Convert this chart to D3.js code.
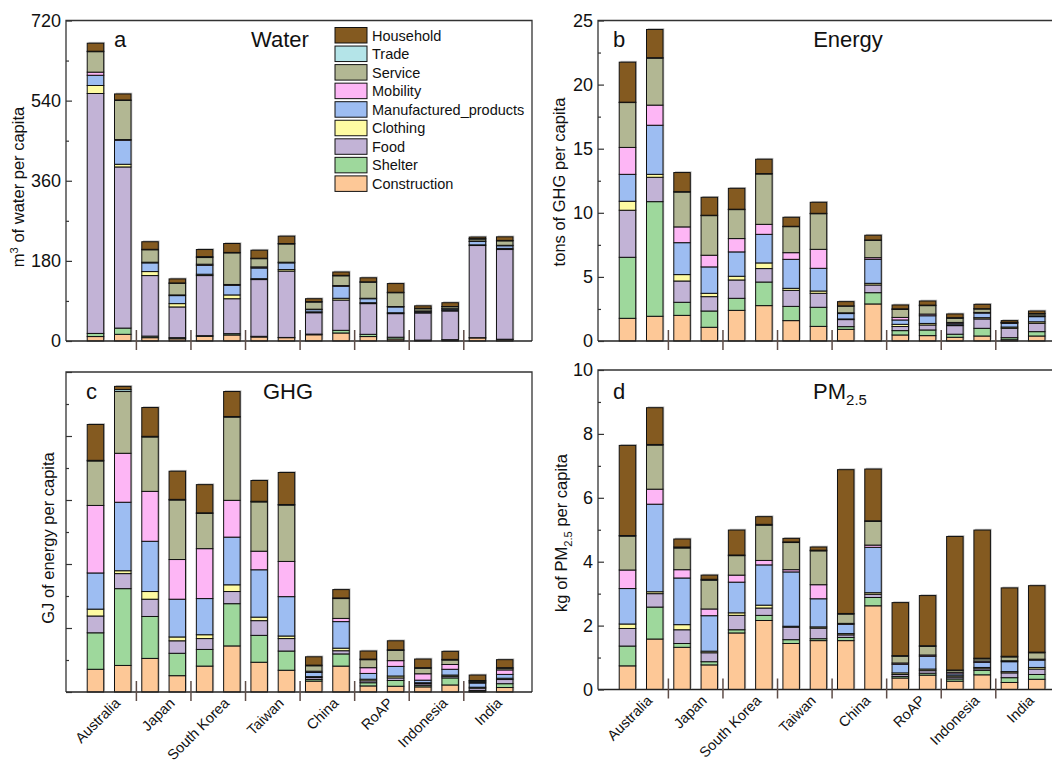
<!DOCTYPE html>
<html><head><meta charset="utf-8">
<script src="https://cdn.jsdelivr.net/npm/d3@7"></script>
<style>body{margin:0;background:#fff}svg{display:block}</style>
</head><body>
<svg id="chart" width="1052" height="764"></svg>
<script>
// ---------------- DATA ----------------
const categories = ["Australia","Japan","South Korea","Taiwan","China","RoAP","Indonesia","India"];
// stack order bottom -> top
const sectors = ["Construction","Shelter","Food","Clothing","Manufactured_products","Mobility","Service","Trade","Household"];
const sectorColors = ["#fdc897","#9ed89c","#c2b3d6","#fefba2","#9dbdf2","#fdb6f5","#b2b793","#b4e4e8","#845a20"];

// each row = one bar (two bars per category), columns follow `sectors`
const waterBars = [
  [10,7,539,18,23,7,46,1,18],
  [15,14,362,6,54,1.5,88,1,13.5],
  [7.5,3.5,136,9,19.5,1.5,28,1,17],
  [5,2.5,69,7.5,18,1.5,26,1,9],
  [10.5,1.5,135,3,20,2.5,15,2,16],
  [13.5,3,78.5,8.5,21.5,2,71,1,20],
  [9,1.5,127.5,2,24,2.5,18.5,1,18],
  [7.5,0.5,149,3.5,15,1.5,41,1,16.5],
  [14,1.5,48,2,5,1,16,1,6.5],
  [18,6,68,4,27,1.5,22,1,7.5],
  [10,5,69,2,9,1,36,1,9],
  [4.5,4,53,2,13,1,31,1,19.5],
  [1,1,61,1.5,2.5,0.5,5,1,5.5],
  [2,1,64.5,1.5,3,0.5,4.5,0.5,8.5],
  [7,0.5,207,1.5,7.5,1,4.5,1,3.5],
  [3,1,201.5,2.5,6,1,10,1,8]
];
const energyBars = [
  [1.77,4.76,3.67,0.7,2.1,2.1,3.5,0.03,3.12],
  [1.93,8.94,1.9,0.23,3.83,1.57,3.66,0.04,2.2],
  [2.0,1.02,1.66,0.5,2.49,1.23,2.72,0.03,1.49],
  [1.07,1.27,1.12,0.26,2.06,0.91,3.09,0.03,1.4],
  [2.39,0.94,1.43,0.29,1.9,1.04,2.26,0.03,1.63],
  [2.76,1.84,1.05,0.44,2.23,0.78,3.93,0.03,1.12],
  [1.59,1.11,1.25,0.16,2.26,0.52,2.03,0.03,0.7],
  [1.14,1.49,1.09,0.18,1.77,1.48,2.78,0.03,0.86],
  [0.91,0.21,0.55,0.05,0.42,0.06,0.52,0.02,0.33],
  [2.89,0.88,0.6,0.13,1.87,0.13,1.35,0.03,0.37],
  [0.47,0.34,0.32,0.17,0.34,0.2,0.62,0.05,0.3],
  [0.42,0.44,0.39,0.12,0.6,0.13,0.66,0.04,0.32],
  [0.29,0.24,0.67,0.05,0.1,0.1,0.32,0.05,0.29],
  [0.39,0.6,0.73,0.1,0.36,0.05,0.27,0.02,0.34],
  [0.1,0.16,0.73,0.1,0.29,0.03,0.04,0.01,0.13],
  [0.39,0.34,0.65,0.12,0.4,0.06,0.15,0.04,0.19]
];
const ghgBars = [
  [0.71,1.14,0.525,0.215,1.13,2.11,1.39,0.02,1.12],
  [0.83,2.4,0.47,0.09,2.14,1.53,1.93,0.06,0.1],
  [1.05,1.31,0.54,0.24,1.57,1.56,1.7,0.02,0.9],
  [0.51,0.7,0.39,0.12,1.18,1.24,1.86,0.02,0.88],
  [0.81,0.52,0.34,0.12,1.13,1.56,1.1,0.02,0.88],
  [1.44,1.32,0.38,0.21,1.49,1.15,2.6,0.02,0.78],
  [0.93,0.84,0.46,0.11,1.48,0.58,1.54,0.02,0.65],
  [0.68,0.6,0.39,0.08,1.23,1.1,1.76,0.02,1.0],
  [0.34,0.05,0.06,0.03,0.13,0.04,0.17,0.02,0.26],
  [0.81,0.38,0.1,0.08,0.83,0.1,0.62,0.02,0.26],
  [0.19,0.1,0.06,0.05,0.18,0.18,0.25,0.02,0.25],
  [0.18,0.18,0.08,0.06,0.3,0.18,0.32,0.02,0.28],
  [0.16,0.05,0.05,0.03,0.08,0.2,0.17,0.02,0.27],
  [0.22,0.22,0.05,0.04,0.18,0.15,0.14,0.02,0.25],
  [0.02,0.03,0.07,0.03,0.13,0.03,0.03,0.02,0.17],
  [0.14,0.12,0.13,0.04,0.12,0.14,0.05,0.02,0.25]
];
const pmBars = [
  [0.74,0.62,0.55,0.14,1.11,0.58,1.06,0.02,2.82],
  [1.58,1.0,0.42,0.06,2.74,0.47,1.38,0.02,1.15],
  [1.32,0.12,0.43,0.16,1.46,0.26,0.68,0.03,0.25],
  [0.77,0.1,0.28,0.05,1.11,0.21,0.9,0.03,0.13],
  [1.77,0.1,0.45,0.08,0.96,0.22,0.61,0.02,0.78],
  [2.16,0.16,0.23,0.09,1.26,0.14,1.1,0.03,0.24],
  [1.44,0.12,0.39,0.03,1.7,0.07,0.85,0.02,0.11],
  [1.53,0.06,0.33,0.04,0.88,0.44,1.06,0.02,0.1],
  [1.53,0.1,0.08,0.04,0.29,0.03,0.29,0.02,4.5],
  [2.62,0.26,0.1,0.05,1.42,0.07,0.74,0.02,1.62],
  [0.36,0.05,0.06,0.05,0.27,0.04,0.21,0.02,1.66],
  [0.45,0.06,0.08,0.05,0.4,0.04,0.27,0.02,1.57],
  [0.26,0.07,0.06,0.04,0.06,0.05,0.06,0.01,4.18],
  [0.46,0.14,0.05,0.04,0.16,0.04,0.07,0.02,4.01],
  [0.22,0.15,0.15,0.04,0.31,0.03,0.12,0.02,2.14],
  [0.32,0.15,0.17,0.05,0.23,0.03,0.2,0.02,2.08]
];
const waterTicks = [0,180,360,540,720];
const energyTicks = [0,5,10,15,20,25];
const ghgTicks = [0,2,4,6,8,10];
const pmTicks = [0,2,4,6,8,10];

// ---------------- LAYOUT ----------------
const FONT = "'Liberation Sans', Arial, Helvetica, sans-serif";
const svg = d3.select("#chart").style("font-family", FONT);
const color = d3.scaleOrdinal().domain(sectors).range(sectorColors);

const panels = [
  {letter:"a", title:[["Water"]], data:waterBars, ticks:waterTicks, max:720, left:66, top:20.5, bottom:341,
   tickLabels:true, xLabels:false, ylab:[["m"],["3","sup"],[" of water per capita"]], ylx:24, yly:187, titleX:280, letterX:114, baseY:47, legend:true},
  {letter:"b", title:[["Energy"]], data:energyBars, ticks:energyTicks, max:25, left:598, top:20.5, bottom:341,
   tickLabels:true, xLabels:false, ylab:[["tons of GHG per capita"]], ylx:565, yly:182, titleX:848, letterX:613, baseY:47},
  {letter:"c", title:[["GHG"]], data:ghgBars, ticks:ghgTicks, max:10, left:66, top:372, bottom:692,
   tickLabels:false, xLabels:true, ylab:[["GJ of energy per capita"]], ylx:54, yly:538, titleX:288, letterX:86, baseY:399},
  {letter:"d", title:[["PM"],["2.5","sub"]], data:pmBars, ticks:pmTicks, max:10, left:598, top:370, bottom:689.5,
   tickLabels:true, xLabels:true, ylab:[["kg of PM"],["2.5","sub"],[" per capita"]], ylx:567, yly:533, titleX:840, letterX:613, baseY:399}
];

function richText(sel, parts, size){
  parts.forEach((p,i)=>{
    const t = sel.append("tspan").text(p[0]);
    if(p[1]==="sub"){ t.attr("font-size", size*0.68).attr("dy", size*0.28); }
    else if(p[1]==="sup"){ t.attr("font-size", size*0.68).attr("dy", -size*0.38); }
    else if(i>0){
      const prev = parts[i-1];
      if(prev[1]==="sub") t.attr("dy", -size*0.28);
      if(prev[1]==="sup") t.attr("dy", size*0.38);
    }
  });
}

const PLOT_W = 466;
const BAR_W = 16.5;
const axisColor = "#333";

panels.forEach(P=>{
  const g = svg.append("g");
  const x = d3.scaleLinear().domain([-1.08, 16]).range([P.left, P.left + PLOT_W]);
  const y = d3.scaleLinear().domain([0, P.max]).range([P.bottom, P.top]);

  const rows = P.data.map((r,i)=>{ const o={idx:i}; sectors.forEach((s,k)=>o[s]=r[k]); return o; });
  const stack = d3.stack().keys(sectors)(rows);
  const total = d=>d3.sum(sectors, s=>d[s]);

  // subtle shadow behind each bar
  g.append("g").selectAll("rect").data(rows).join("rect")
    .attr("x", d=>x(d.idx)-BAR_W/2+1.3)
    .attr("y", d=>y(total(d))-1.3)
    .attr("width", BAR_W)
    .attr("height", d=>y(0)-y(total(d)))
    .attr("fill", "#8a8a8a").attr("opacity", 0.55);

  g.append("g").selectAll("g").data(stack).join("g")
    .attr("fill", d=>color(d.key))
    .selectAll("rect").data(d=>d).join("rect")
      .attr("x", d=>x(d.data.idx)-BAR_W/2)
      .attr("y", d=>y(d[1]))
      .attr("width", BAR_W)
      .attr("height", d=>Math.max(0, y(d[0])-y(d[1])))
      .attr("stroke", "#111").attr("stroke-width", 1);

  // frame
  const right = P.left + PLOT_W;
  g.append("path")
    .attr("d", `M${P.left},${P.bottom}V${P.top}H${right}V${P.bottom}`)
    .attr("fill","none").attr("stroke", axisColor).attr("stroke-width", 1.3);
  g.append("line").attr("x1",P.left).attr("x2",right).attr("y1",P.bottom).attr("y2",P.bottom)
    .attr("stroke", "#222").attr("stroke-width", 1.3);

  // y axis major (inward) + minor ticks
  const major = d3.axisLeft(y).tickValues(P.ticks).tickSizeInner(-6).tickSizeOuter(0).tickPadding(5)
    .tickFormat(P.tickLabels ? d3.format("d") : "");
  const ax = g.append("g").attr("transform", `translate(${P.left},0)`).call(major);
  ax.select(".domain").remove();
  ax.selectAll(".tick line").attr("stroke", axisColor).attr("stroke-width", 1.2);
  ax.selectAll(".tick text").attr("font-size", 18).attr("fill","#111").attr("font-family", FONT);
  const step = P.ticks[1]-P.ticks[0];
  const minorVals = P.ticks.slice(0,-1).map(t=>t+step/2);
  const minor = d3.axisLeft(y).tickValues(minorVals).tickSizeInner(-3).tickSizeOuter(0).tickFormat("");
  const mx = g.append("g").attr("transform", `translate(${P.left},0)`).call(minor);
  mx.select(".domain").remove();
  mx.selectAll(".tick line").attr("stroke", axisColor).attr("stroke-width", 1.2);

  // group separators crossing the x axis
  const seps = d3.range(1,8).map(k=>2*k-0.5);
  g.append("g").selectAll("line").data(seps).join("line")
    .attr("x1", d=>x(d)).attr("x2", d=>x(d))
    .attr("y1", P.bottom-11).attr("y2", P.bottom+9)
    .attr("stroke", "#5e4d48").attr("stroke-width", 1.5);

  // category labels
  if(P.xLabels){
    g.append("g").selectAll("text").data(categories).join("text")
      .attr("transform", (d,i)=>`translate(${x(2*i+0.5)+12},${P.bottom+12}) rotate(-45)`)
      .attr("text-anchor","end").attr("font-size", 14.5).attr("fill","#111")
      .text(d=>d);
  }

  // y label
  const yl = g.append("text")
    .attr("transform", `translate(${P.ylx},${P.yly}) rotate(-90)`)
    .attr("text-anchor","middle").attr("font-size", 16.5).attr("fill","#111");
  richText(yl, P.ylab, 16.5);

  // panel letter & title
  g.append("text").attr("x", P.letterX).attr("y", P.baseY).attr("font-size", 22).attr("fill","#111").text(P.letter);
  const tt = g.append("text").attr("x", P.titleX).attr("y", P.baseY).attr("text-anchor","middle")
    .attr("font-size", 22).attr("fill","#111");
  richText(tt, P.title, 22);

  // legend
  if(P.legend){
    const legendOrder = sectors.slice().reverse();
    const lg = g.append("g").attr("transform","translate(335,27.5)");
    const items = lg.selectAll("g").data(legendOrder).join("g")
      .attr("transform", (d,i)=>`translate(0,${i*18.55})`);
    items.append("rect").attr("width", 32).attr("height", 15.5)
      .attr("fill", d=>color(d)).attr("stroke","#111").attr("stroke-width",1);
    items.append("text").attr("x", 37).attr("y", 13).attr("font-size", 14.5).attr("fill","#111").text(d=>d);
  }
});
</script>
</body></html>
